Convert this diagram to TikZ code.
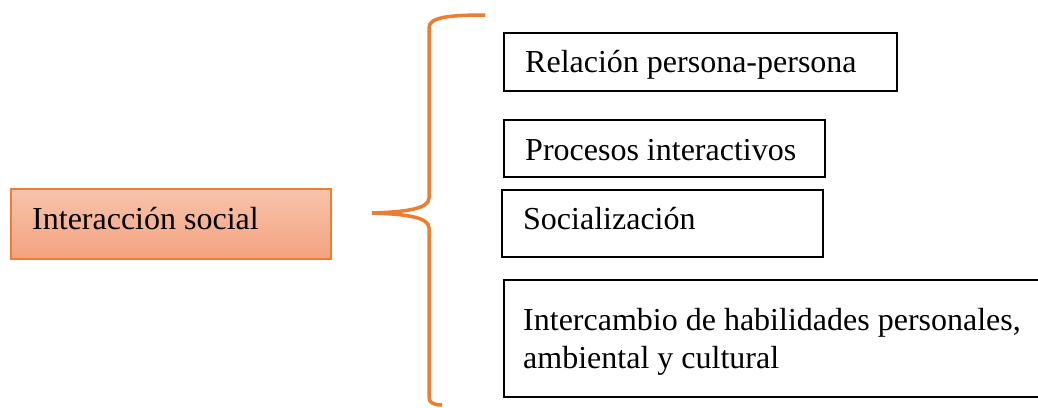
\documentclass[tikz,border=0pt]{standalone}
\usepackage{fontspec}
\setmainfont{Liberation Serif}
\definecolor{orangeline}{HTML}{ED7D31}
\definecolor{salmontop}{HTML}{F7C3AB}
\definecolor{salmonbot}{HTML}{F3A27F}
\tikzset{
  txt/.style={font=\fontsize{32}{38}\selectfont, anchor=base west, inner sep=0pt},
  itembox/.style={draw=black, line width=2pt, anchor=north west, inner sep=0pt},
  mainbox/.style={draw=orangeline, line width=2pt, top color=salmontop, bottom color=salmonbot, anchor=north west, inner sep=0pt},
  brace/.style={draw=orangeline, line width=3.5pt}
}
\begin{document}
\begin{tikzpicture}[x=1pt,y=-1pt]
\useasboundingbox (0,0) rectangle (1038,407);
% main box
\node[mainbox, minimum width=320pt, minimum height=70pt] (main) at (10,188) {};
\node[txt] (maintxt) at (32,229) {Interacción social};
% item boxes
\node[itembox, minimum width=393pt, minimum height=58pt] (b1) at (503,32) {};
\node[txt] (t1) at (525,72) {Relación persona-persona};
\node[itembox, minimum width=321pt, minimum height=57pt] (b2) at (503,119) {};
\node[txt] (t2) at (525,160) {Procesos interactivos};
\node[itembox, minimum width=321pt, minimum height=67pt] (b3) at (501,189) {};
\node[txt] (t3) at (523,229) {Socialización};
\node[itembox, minimum width=545pt, minimum height=117pt] (b4) at (503,279) {};
\node[txt] (t4a) at (523,330) {Intercambio de habilidades personales,};
\node[txt] (t4b) at (523,368) {ambiental y cultural};
% brace
\coordinate (tip) at (372,213);
\coordinate (btop) at (485,15);
\coordinate (bbot) at (442,405);
\draw[brace] (btop) .. controls (445,15) and (429,18) .. (429,28) -- (429,198)
  .. controls (429,209) and (405,212) .. (tip)
  .. controls (405,214) and (429,217) .. (429,228) -- (429,397)
  .. controls (429,403) and (434,405) .. (bbot);
\end{tikzpicture}
\end{document}
